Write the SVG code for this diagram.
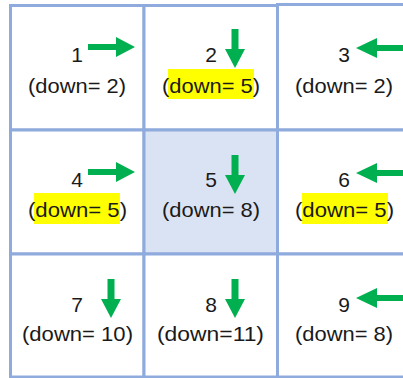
<svg xmlns="http://www.w3.org/2000/svg" width="403" height="378" viewBox="0 0 403 378">
<style>
.cell{fill:#fff;stroke:#8faadc;stroke-width:3}
.mid{fill:#dae3f3}
.t{font-family:"Liberation Sans",Arial,sans-serif;font-size:21px;fill:#1a1a1a;text-anchor:middle}
.hl{fill:#ffff00}
.arr{fill:#00b050}
</style>
<defs>
<path id="ar" d="M-47,-3 H-19 V-10 L0,0 L-19,10 V3 H-47 Z"/>
<path id="ad" d="M-3.5,-39 H3.5 V-19 H10 L0,0 L-10,-19 H-3.5 Z"/>
<path id="al" d="M0,0 L21,-10 V-3 H60 V3 H21 V10 Z"/>
</defs>
<rect width="403" height="378" fill="#fff"/>
<g id="cell1">
<rect class="cell" x="10.5" y="5.5" width="133.5" height="124.5"/>
<text class="t" x="77" y="62">1</text>
<use class="arr" href="#ar" x="135" y="47"/>
<text class="t" x="77" y="93" textLength="98" lengthAdjust="spacingAndGlyphs">(down= 2)</text>
</g>
<g id="cell2">
<rect class="cell" x="144" y="5.5" width="133.5" height="124.5"/>
<rect class="hl" x="168" y="69" width="86" height="30"/>
<text class="t" x="211" y="62">2</text>
<use class="arr" href="#ad" x="235" y="68"/>
<text class="t" x="211" y="93" textLength="98" lengthAdjust="spacingAndGlyphs">(down= 5)</text>
</g>
<g id="cell3">
<rect class="cell" x="277.5" y="4.5" width="135" height="125.5"/>
<text class="t" x="344" y="62">3</text>
<use class="arr" href="#al" x="356" y="48"/>
<text class="t" x="344" y="93" textLength="98" lengthAdjust="spacingAndGlyphs">(down= 2)</text>
</g>
<g id="cell4">
<rect class="cell" x="10.5" y="130" width="133.5" height="124"/>
<rect class="hl" x="34" y="193" width="86" height="31"/>
<text class="t" x="77" y="187">4</text>
<use class="arr" href="#ar" x="135" y="172"/>
<text class="t" x="77.5" y="217" textLength="99" lengthAdjust="spacingAndGlyphs">(down= 5)</text>
</g>
<g id="cell5">
<rect class="cell mid" x="144" y="130" width="133.5" height="124"/>
<text class="t" x="211" y="187">5</text>
<use class="arr" href="#ad" x="235" y="194"/>
<text class="t" x="211" y="217" textLength="98" lengthAdjust="spacingAndGlyphs">(down= 8)</text>
</g>
<g id="cell6">
<rect class="cell" x="277.5" y="130" width="135" height="124"/>
<rect class="hl" x="302" y="193" width="86" height="31"/>
<text class="t" x="344" y="187">6</text>
<use class="arr" href="#al" x="356" y="173"/>
<text class="t" x="344.5" y="217" textLength="99" lengthAdjust="spacingAndGlyphs">(down= 5)</text>
</g>
<g id="cell7">
<rect class="cell" x="10.5" y="254" width="133.5" height="123"/>
<text class="t" x="77" y="312">7</text>
<use class="arr" href="#ad" x="111" y="318"/>
<text class="t" x="77.5" y="341" textLength="111" lengthAdjust="spacingAndGlyphs">(down= 10)</text>
</g>
<g id="cell8">
<rect class="cell" x="144" y="254" width="133.5" height="123"/>
<text class="t" x="211" y="312">8</text>
<use class="arr" href="#ad" x="235" y="318"/>
<text class="t" x="210.5" y="341" textLength="107" lengthAdjust="spacingAndGlyphs">(down=11)</text>
</g>
<g id="cell9">
<rect class="cell" x="277.5" y="254" width="135" height="123"/>
<text class="t" x="344" y="312">9</text>
<use class="arr" href="#al" x="356" y="298"/>
<text class="t" x="344" y="341" textLength="98" lengthAdjust="spacingAndGlyphs">(down= 8)</text>
</g>
<g id="connectors"/>
</svg>
